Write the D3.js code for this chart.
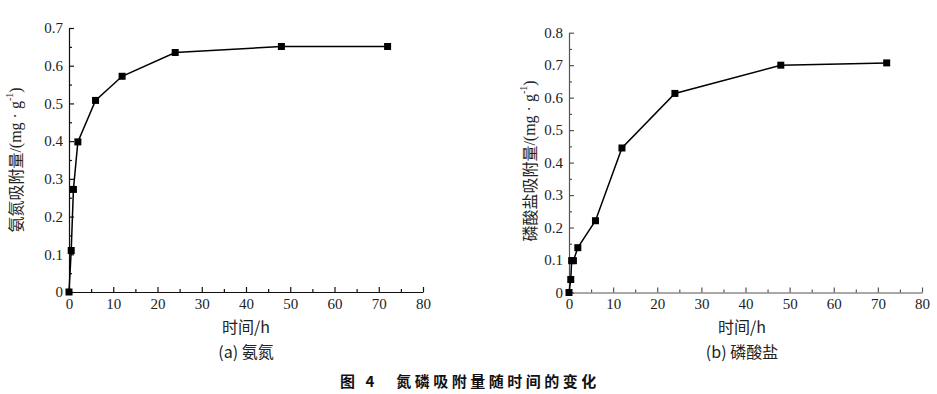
<!DOCTYPE html>
<html><head><meta charset="utf-8">
<script src="https://cdn.jsdelivr.net/npm/d3@7"></script>
<style>body{margin:0;background:#fff}
.ser{font-family:"Liberation Serif","Tinos","Times New Roman","DejaVu Serif",serif}
.cjk{font-family:"Noto Sans CJK SC","Noto Sans",sans-serif}
</style></head>
<body><svg id="c" width="937" height="394"></svg>
<script>
const timeA=[0,0.5,1,2,6,12,24,48,72];
const nitrogen=[0,0.11,0.272,0.398,0.508,0.572,0.635,0.651,0.651];
const timeB=[0,0.4,0.6,1,2,6,12,24,48,72];
const phosphate=[0,0.04,0.098,0.098,0.138,0.221,0.445,0.613,0.700,0.707];
const xTicks=[0,10,20,30,40,50,60,70,80];
const xMinor=[5,15,25,35,45,55,65,75];
const yTicksA=[0,0.1,0.2,0.3,0.4,0.5,0.6,0.7];
const yMinorA=[0.05,0.15,0.25,0.35,0.45,0.55,0.65];
const yTicksB=[0,0.1,0.2,0.3,0.4,0.5,0.6,0.7,0.8];
const yMinorB=[0.05,0.15,0.25,0.35,0.45,0.55,0.65,0.75];
const xLabel="时间/h";
const yLabelA="氨氮吸附量";
const yLabelB="磷酸盐吸附量";
const unit="/(mg · g";
const subA="(a) 氨氮";
const subB="(b) 磷酸盐";
const title="图 4　氮磷吸附量随时间的变化";

const svg=d3.select("#c");
const fmt=d=>d===0?"0":d.toFixed(1);

function panel(o){
  const x=d3.scaleLinear().domain([0,80]).range([o.x0,o.x1]);
  const y=d3.scaleLinear().domain([0,o.ymax]).range([o.y0,o.y1]);
  const g=svg.append("g");
  g.append("g").attr("transform",`translate(0,${o.y0})`)
    .call(d3.axisBottom(x).tickValues(xMinor).tickSize(-3).tickFormat(""))
    .call(s=>s.select(".domain").remove());
  g.append("g").attr("transform",`translate(${o.x0},0)`)
    .call(d3.axisLeft(y).tickValues(o.yMinor).tickSize(-3).tickFormat(""))
    .call(s=>s.select(".domain").remove());
  const xa=g.append("g").attr("transform",`translate(0,${o.y0})`)
    .call(d3.axisBottom(x).tickValues(xTicks).tickSize(-5).tickSizeOuter(0).tickPadding(6).tickFormat(d=>d));
  const ya=g.append("g").attr("transform",`translate(${o.x0},0)`)
    .call(d3.axisLeft(y).tickValues(o.yTicks).tickSize(-5).tickSizeOuter(0).tickPadding(6).tickFormat(fmt));
  [xa,ya].forEach(a=>{a.attr("font-family",null).attr("font-size",null);
    a.selectAll("text").attr("class","ser").style("font-size","15px").attr("fill","#222");});
  g.selectAll(".domain,.tick line").attr("stroke",o.axisColor).attr("stroke-width",1.2);
  const pts=o.t.map((t,i)=>[t,o.v[i]]);
  g.append("path").datum(pts).attr("fill","none").attr("stroke","#000").attr("stroke-width",1.5)
    .attr("d",d3.line().x(d=>x(d[0])).y(d=>y(d[1])));
  g.selectAll("rect.m").data(pts).join("rect").attr("class","m")
    .attr("x",d=>x(d[0])-3.5).attr("y",d=>y(d[1])-3.5).attr("width",7).attr("height",7).attr("fill","#000");
  const yl=g.append("text").attr("class","ser").attr("transform",`translate(${o.ylx},${o.ylc}) rotate(-90)`)
    .attr("text-anchor","middle").attr("dominant-baseline","central")
    .style("font-size","16px").attr("fill","#222");
  yl.append("tspan").attr("class","cjk").text(o.ylab);
  yl.append("tspan").text(unit);
  yl.append("tspan").style("font-size","10px").attr("dy",-6).text("-1");
  yl.append("tspan").attr("dy",6).text(")");
  const cx=o.cx;
  g.append("text").attr("class","cjk").attr("x",cx).attr("y",333).attr("text-anchor","middle")
    .style("font-size","16px").attr("fill","#222").text(xLabel);
  g.append("text").attr("class","cjk").attr("x",cx).attr("y",358).attr("text-anchor","middle")
    .style("font-size","16px").attr("fill","#222").text(o.sub);
}

panel({x0:69,x1:423,y0:292,y1:28,ymax:0.7,yTicks:yTicksA,yMinor:yMinorA,t:timeA,v:nitrogen,
  ylab:yLabelA,ylx:15,ylc:160,cx:246,sub:subA,axisColor:"#111"});
panel({x0:569,x1:922,y0:292.5,y1:32.7,ymax:0.8,yTicks:yTicksB,yMinor:yMinorB,t:timeB,v:phosphate,
  ylab:yLabelB,ylx:529,ylc:161,cx:742,sub:subB,axisColor:"#555"});

svg.append("text").attr("class","cjk").attr("x",470).attr("y",387).attr("text-anchor","middle")
  .attr("font-weight","bold").style("font-size","15px").style("letter-spacing","3.5px")
  .attr("fill","#111").text(title);
</script></body></html>
